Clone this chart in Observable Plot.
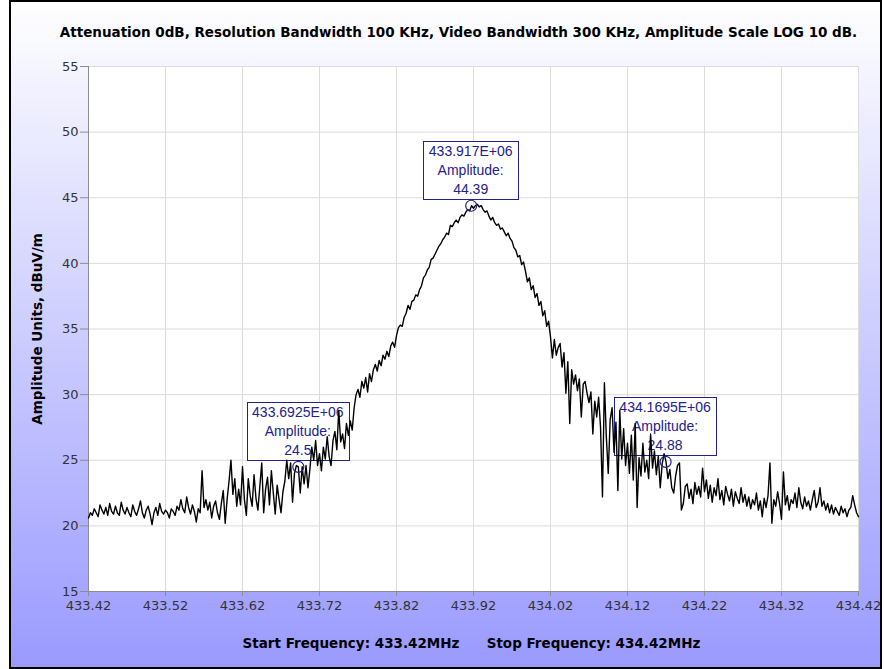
<!DOCTYPE html>
<html><head><meta charset="utf-8">
<script src="https://cdn.jsdelivr.net/npm/d3@7"></script>
<script src="https://cdn.jsdelivr.net/npm/@observablehq/plot@0.6"></script>
<style>
html,body{margin:0;padding:0;background:#fff;}
#wrap{position:relative;width:884px;height:669px;overflow:hidden;background:#fff;}
#frame{position:absolute;left:9px;top:0;width:869px;height:665px;border:2px solid #000;background:linear-gradient(to bottom,#ffffff 0%,#9a9aff 100%);}
#chart{position:absolute;left:0;top:0;}
.t{position:absolute;font-family:"DejaVu Sans",sans-serif;font-weight:bold;font-size:13.5px;line-height:16px;color:#000;white-space:nowrap;transform:translateX(-50%);}
</style></head><body>
<div id="wrap">
  <div id="frame"></div>
  <div id="chart"></div>
  <div class="t" id="title" style="left:458.5px;top:24px;"></div>
  <div class="t" id="capStart" style="left:351px;top:635px;"></div>
  <div class="t" id="capStop" style="left:593.5px;top:635px;"></div>
</div>
<script>
// ---- data ----
const titleText = "Attenuation 0dB, Resolution Bandwidth 100 KHz, Video Bandwidth 300 KHz, Amplitude Scale LOG 10 dB.";
const yLabel = "Amplitude Units, dBuV/m";
const startText = "Start Frequency: 433.42MHz";
const stopText = "Stop Frequency: 434.42MHz";
const xTicks = [433.42, 433.52, 433.62, 433.72, 433.82, 433.92, 434.02, 434.12, 434.22, 434.32, 434.42];
const yTicks = [15, 20, 25, 30, 35, 40, 45, 50, 55];
const freqStart = 433.42;
const freqStep = 0.0025;
const amplitudes = [
  20.6, 21.0, 20.8, 21.3, 21.0, 20.7, 21.6, 21.2, 20.9, 21.4, 20.8, 21.7, 21.1, 20.9, 21.5, 21.0, 20.8, 21.8, 21.2, 20.9,
  21.4, 21.0, 20.7, 21.6, 21.1, 20.8, 21.3, 21.9, 21.0, 20.6, 21.2, 21.5, 20.9, 20.1, 21.0, 21.4, 20.8, 21.7, 21.1, 20.9,
  21.2, 21.0, 20.6, 21.3, 21.1, 20.8, 21.5, 21.2, 22.0, 21.3, 21.0, 22.2, 21.4, 20.9, 21.6, 21.1, 20.3, 21.3, 21.0, 24.2,
  21.4, 22.0, 21.2, 21.8, 20.6, 21.5, 21.9, 21.0, 20.5, 21.7, 22.7, 20.2, 22.0, 23.4, 25.0, 22.4, 23.6, 21.5, 22.8, 21.6,
  24.5, 22.0, 20.8, 23.6, 22.3, 21.5, 23.9, 22.1, 21.2, 23.0, 24.8, 21.0, 22.8, 23.7, 21.6, 24.2, 22.5, 20.9, 23.1, 22.0,
  21.0, 22.6, 23.4, 25.0, 23.6, 24.8, 21.8, 24.0, 24.6, 24.5, 22.5, 24.5, 23.2, 24.6, 22.9, 24.3, 26.0, 25.0, 26.5, 24.6,
  25.5, 24.2, 26.0, 25.1, 26.8, 25.3, 24.6, 26.5, 27.2, 25.8, 28.8, 26.4, 27.0, 25.9, 27.8, 26.9, 28.0, 27.3, 29.0, 30.0,
  30.4, 29.8, 31.0, 30.5, 31.3, 30.2, 31.6, 31.0, 31.9, 32.3, 31.8, 32.6, 32.2, 33.0, 32.7, 33.3, 32.9, 33.7, 34.0, 33.6,
  34.5, 35.1, 35.3, 35.2, 35.9, 36.2, 36.8, 36.5, 37.1, 37.2, 37.6, 37.5, 38.0, 38.3, 38.9, 39.1, 39.5, 39.7, 40.3, 40.4,
  40.7, 41.0, 41.3, 41.5, 41.8, 42.0, 42.3, 42.2, 42.9, 42.8, 43.1, 43.3, 43.1, 43.5, 43.7, 43.6, 43.9, 44.1, 44.0, 44.39,
  44.2, 44.4, 44.5, 44.3, 44.4, 44.1, 43.9, 44.0, 43.6, 43.3, 43.5, 43.1, 42.9, 43.0, 42.6, 42.7, 42.4, 42.1, 42.3, 41.9,
  41.7, 41.2, 41.0, 40.5, 40.6, 39.9, 40.1, 39.4, 38.6, 38.9, 38.0, 38.3, 37.4, 37.7, 36.8, 37.1, 36.0, 36.4, 35.2, 35.6,
  34.4, 32.8, 34.2, 33.0, 33.6, 33.9, 32.1, 33.2, 30.1, 32.5, 27.8, 31.9, 30.8, 31.5, 30.3, 31.2, 28.3, 30.8, 31.0, 30.1,
  29.4, 30.2, 27.0, 29.5, 28.3, 29.8, 27.5, 22.2, 30.9, 26.8, 24.0, 28.1, 29.0, 25.6, 27.9, 22.7, 28.8, 25.1, 27.4, 24.6,
  26.3, 24.0, 26.9, 23.5, 27.8, 21.4, 25.2, 23.8, 26.3, 24.1, 25.0, 23.6, 27.0, 24.4, 25.7, 23.9, 25.3, 22.9, 24.7, 25.5,
  24.9, 23.6, 24.3, 22.9, 22.5, 23.8, 24.6, 24.8, 21.2, 21.7, 23.0, 23.2, 22.1, 22.8, 21.7, 23.3, 22.4, 23.0, 22.2, 24.4,
  22.6, 23.5, 22.1, 23.1, 21.8, 22.9, 22.3, 23.6, 22.0, 22.7, 21.6, 23.0, 22.4, 21.9, 22.8, 21.5, 22.6, 22.1, 21.7, 22.9,
  21.8, 22.4, 21.5, 22.2, 21.3, 22.0, 21.6, 22.5, 21.2, 21.9, 20.7, 22.1, 21.4, 22.3, 24.8, 20.2, 22.0, 21.5, 22.6, 21.7,
  20.5, 24.1, 21.6, 22.3, 21.2, 22.0, 21.7, 22.5, 21.4, 22.9, 21.8, 21.3, 22.2, 21.5, 21.9, 21.2, 22.0, 22.7, 21.4, 21.8,
  22.9, 21.5, 21.9, 21.2, 21.7, 21.0, 21.6, 20.9, 21.4, 21.1, 20.8, 21.5, 21.0, 21.3, 20.7, 21.2, 21.4, 22.3, 21.6, 21.0, 20.7
];
const markerFreqs = [433.917, 433.6925, 434.1695];
const markerAmps = [44.39, 24.5, 24.88];
const markerLabels = ["433.917E+06", "433.6925E+06", "434.1695E+06"];

// ---- build tables ----
const spectrum = amplitudes.map((a, i) => ({f: freqStart + i * freqStep, a}));
const markers = markerFreqs.map((f, i) => ({f, a: markerAmps[i], label: markerLabels[i]}));

const navy = "#22228f";
const annFont = "Liberation Sans, Arial, sans-serif";
const ctx2d = document.createElement("canvas").getContext("2d");
ctx2d.font = "14px 'Liberation Sans'";

function callouts(index, scales) {
  const g = d3.create("svg:g");
  markers.forEach(m => {
    const cx = scales.x(m.f), cy = scales.y(m.a);
    const lines = [m.label, "Amplitude:", String(m.a)];
    const w = Math.round(Math.max(...lines.map(s => ctx2d.measureText(s).width)) + 11);
    const h = 58;
    const top = Math.round(cy - 64) + 0.5;
    const left = Math.round(cx - w / 2) + 0.5;
    g.append("rect").attr("x", left).attr("y", top).attr("width", w).attr("height", h)
      .attr("fill", "white").attr("stroke", navy).attr("stroke-width", 1);
    lines.forEach((s, k) => g.append("text")
      .attr("x", cx).attr("y", top + 10 + k * 19).attr("dy", "0.35em")
      .attr("text-anchor", "middle").attr("fill", navy)
      .attr("font-family", annFont).attr("font-size", 14).text(s));
  });
  return g.node();
}

const chart = Plot.plot({
  width: 884, height: 669,
  marginLeft: 88, marginRight: 26, marginTop: 66, marginBottom: 78,
  style: {background: "transparent", fontFamily: "DejaVu Sans, sans-serif", fontSize: "13px", overflow: "visible"},
  x: {domain: [433.42, 434.42]},
  y: {domain: [15, 55]},
  marks: [
    Plot.frame({fill: "white", stroke: null}),
    Plot.gridX(xTicks, {stroke: "#dcdcdc", strokeOpacity: 1}),
    Plot.gridY(yTicks, {stroke: "#dcdcdc", strokeOpacity: 1}),
    Plot.axisX(xTicks, {tickSize: 5, tickPadding: 4, tickFormat: d => d.toFixed(2), stroke: "#8c8c8c", fill: "#333", label: null, fontSize: 13}),
    Plot.axisY(yTicks, {tickSize: 8, tickPadding: 2, stroke: "#8c8c8c", fill: "#333", label: null, fontSize: 13}),
    Plot.ruleX([433.42], {stroke: "#8c8c8c"}),
    Plot.ruleY([15], {stroke: "#8c8c8c"}),
    Plot.text([yLabel], {frameAnchor: "left", rotate: -90, dx: -51, textAnchor: "middle", fontWeight: "bold", fontSize: 13.5, fill: "#000"}),
    callouts,
    Plot.line(spectrum, {x: "f", y: "a", stroke: "black", strokeWidth: 1.4}),
    Plot.dot(markers, {x: "f", y: "a", r: 5.5, stroke: navy, fill: "none", strokeWidth: 1.2})
  ]
});
document.getElementById("chart").appendChild(chart);
document.getElementById("title").textContent = titleText;
document.getElementById("capStart").textContent = startText;
document.getElementById("capStop").textContent = stopText;
</script>
</body></html>
